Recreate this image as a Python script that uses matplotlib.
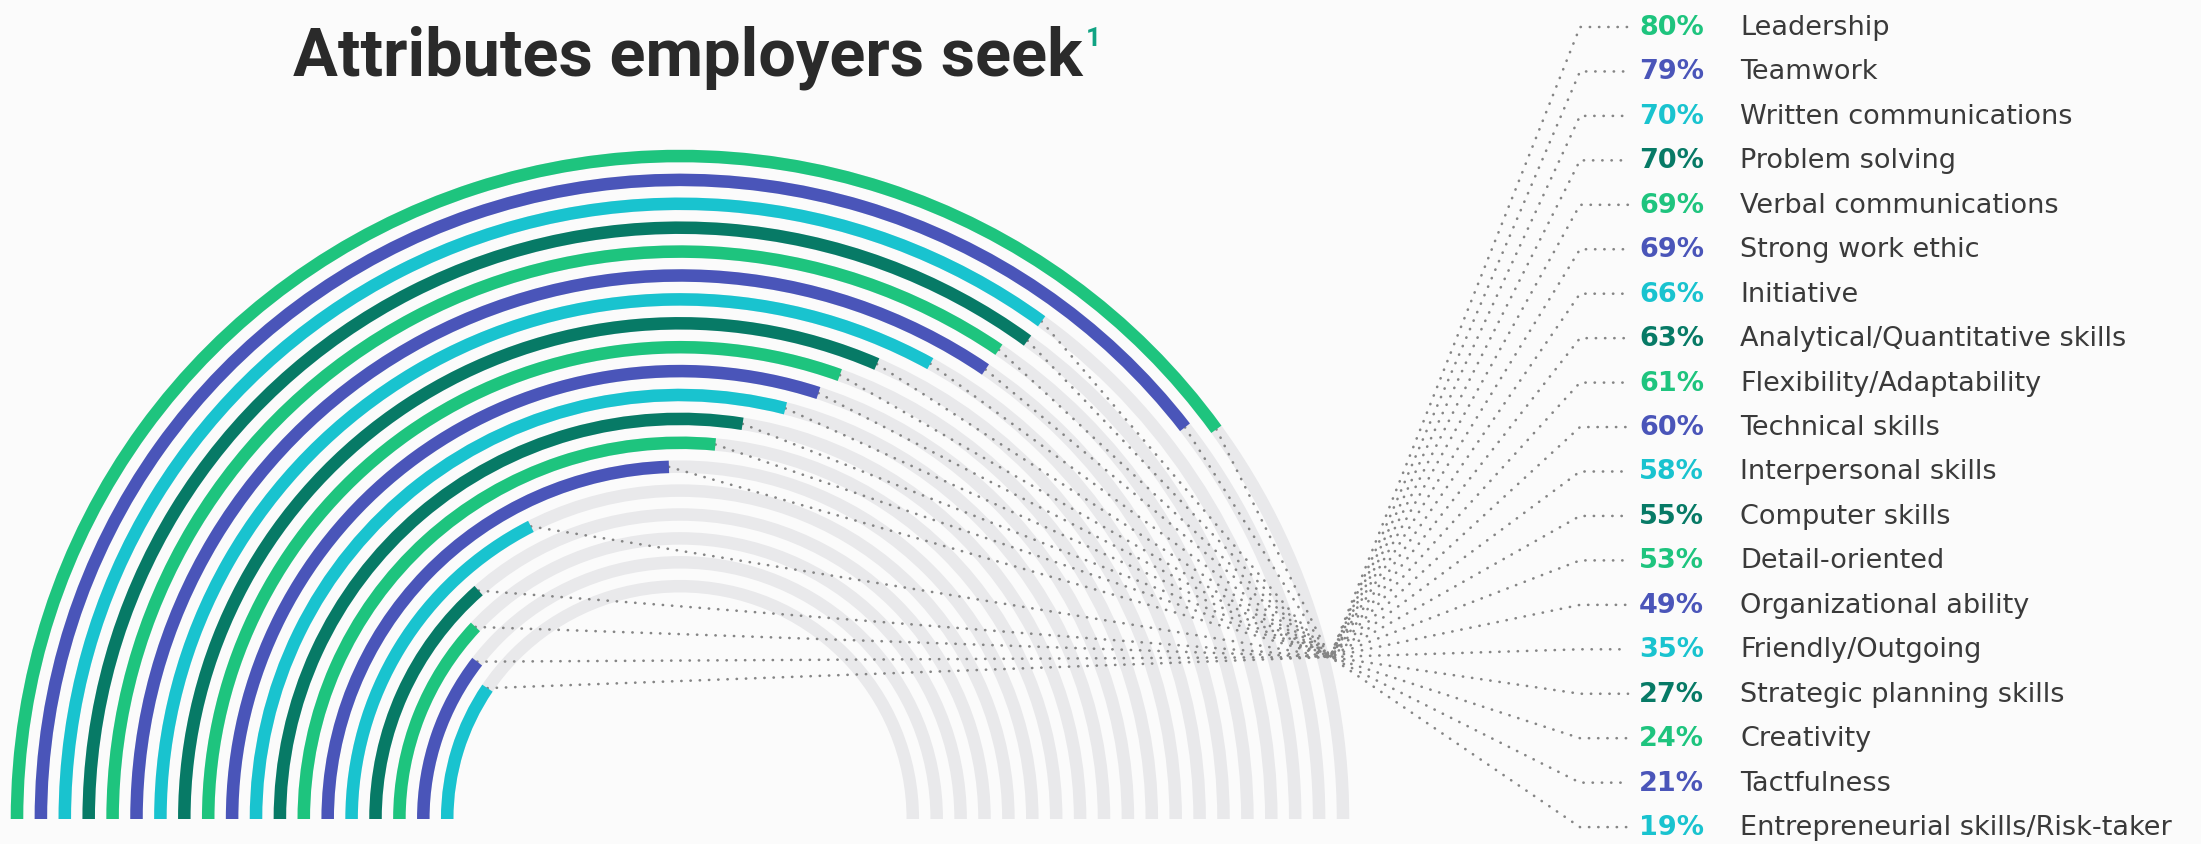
"""Semicircular 'rainbow' bar chart: attributes employers seek (share of employers)."""

import matplotlib

matplotlib.use("Agg")
import matplotlib.pyplot as plt
import numpy as np
from matplotlib.patches import Wedge

W_PX, H_PX = 2201, 845

ATTRIBUTES = [
    "Leadership",
    "Teamwork",
    "Written communications",
    "Problem solving",
    "Verbal communications",
    "Strong work ethic",
    "Initiative",
    "Analytical/Quantitative skills",
    "Flexibility/Adaptability",
    "Technical skills",
    "Interpersonal skills",
    "Computer skills",
    "Detail-oriented",
    "Organizational ability",
    "Friendly/Outgoing",
    "Strategic planning skills",
    "Creativity",
    "Tactfulness",
    "Entrepreneurial skills/Risk-taker",
]
PERCENT = [80, 79, 70, 70, 69, 69, 66, 63, 61, 60, 58, 55, 53, 49, 35, 27, 24, 21, 19]

PALETTE = ["#1ec47e", "#4a55b9", "#19c3cf", "#077a66"]
GRAY_ARC = "#e9e9eb"
DOT_COLOR = "#858585"
TEXT_COLOR = "#3a3a3a"
BG = "#fbfbfb"

# layout in pixels (y measured upward from the bottom of the image)
CX, CY = 680.0, H_PX - 820.0
R_OUTER = 663.0
R_STEP = 23.9
ARC_W = 12.5
HUB = (1330.0, H_PX - 658.0)
ROW_TOP = 28.0
ROW_STEP = 44.45
X_FAN_END = 1580.0
X_DOTS_END = 1628.0
X_PCT = 1639.0
X_LABEL = 1740.0


def row_y(i):
    return H_PX - (ROW_TOP + i * ROW_STEP)


fig = plt.figure(figsize=(W_PX / 100, H_PX / 100), dpi=100, facecolor=BG)
ax = fig.add_axes([0, 0, 1, 1])
ax.set_xlim(0, W_PX)
ax.set_ylim(0, H_PX)
ax.set_aspect("equal")
ax.axis("off")
ax.set_facecolor(BG)

dots = dict(color=DOT_COLOR, lw=1.9, ls=(0, (0.1, 3.4)), dash_capstyle="round",
            solid_capstyle="round", zorder=2)

for i, (name, pct) in enumerate(zip(ATTRIBUTES, PERCENT)):
    r = R_OUTER - i * R_STEP
    color = PALETTE[i % len(PALETTE)]
    # background track over the full half circle
    ax.add_patch(Wedge((CX, CY), r + ARC_W / 2, 0, 180, width=ARC_W,
                       facecolor=GRAY_ARC, edgecolor="none", zorder=1))
    theta_end = 180.0 - 180.0 * pct / 100.0
    ax.add_patch(Wedge((CX, CY), r + ARC_W / 2, theta_end, 180, width=ARC_W,
                       facecolor=color, edgecolor="none", zorder=3))

    # leader: arc end -> hub -> label row
    t = np.deg2rad(theta_end)
    x0, y0 = CX + r * np.cos(t), CY + r * np.sin(t)
    y_row = row_y(i)
    ax.plot([x0, HUB[0], X_FAN_END, X_DOTS_END], [y0, HUB[1], y_row, y_row], **dots)

    ax.text(X_PCT, y_row, f"{pct}%", color=color, fontsize=19.5, fontweight="bold",
            family="DejaVu Sans", va="center", ha="left")
    ax.text(X_LABEL, y_row, name, color=TEXT_COLOR, fontsize=19.5,
            family="DejaVu Sans", va="center", ha="left")

title = ax.text(CX + 8, H_PX - 75, "Attributes employers seek", color="#2a2a2a",
                fontsize=48, fontweight="bold", family="Roboto",
                ha="center", va="baseline")
fig.canvas.draw()
bb = title.get_window_extent().transformed(ax.transData.inverted())
ax.text(bb.x1 + 3, H_PX - 46, "1", color="#10a383", fontsize=19, fontweight="bold",
        family="Roboto", ha="left", va="baseline")

fig.savefig("out.png", dpi=100, facecolor=BG)
